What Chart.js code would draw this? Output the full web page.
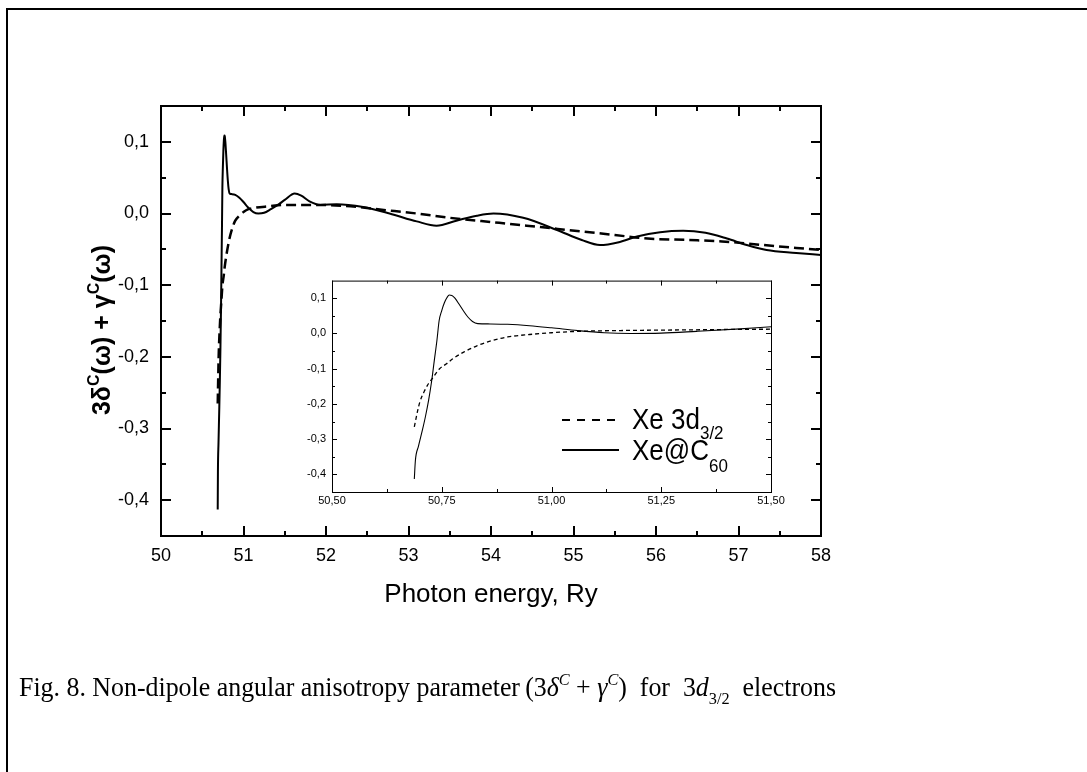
<!DOCTYPE html>
<html>
<head>
<meta charset="utf-8">
<script src="https://cdn.jsdelivr.net/npm/chart.js@4.4.0/dist/chart.umd.min.js"></script>
<style>
  html, body { margin: 0; padding: 0; background: #fff; }
  #page { position: relative; width: 1087px; height: 772px; overflow: hidden; }
  #mainChart { position: absolute; left: 0; top: 0; }
  #insetChart { position: absolute; left: 280px; top: 268px; }
</style>
</head>
<body>
<div id="page">
  <canvas id="mainChart" width="1087" height="772"></canvas>
  <canvas id="insetChart" width="510" height="252"></canvas>
</div>
<script>
// ========================
// DATA
// ========================
// Xe 3d3/2 (dashed)
const xeEnergy = [50.6875, 50.695, 50.70, 50.71, 50.72, 50.73, 50.745, 50.76, 50.775, 50.80,
  50.83, 50.86, 50.90, 50.95, 51.00, 51.06, 51.14, 51.30, 51.50, 51.90, 52.30, 52.70,
  53.10, 53.50, 54.10, 54.60, 55.10, 55.50, 55.90, 56.40, 56.80, 57.30, 57.70, 58.00];
const xeBeta = [-0.265, -0.22, -0.195, -0.165, -0.142, -0.125, -0.100, -0.087, -0.072, -0.053,
  -0.035, -0.022, -0.010, -0.003, 0.002, 0.006, 0.008, 0.010, 0.012, 0.012, 0.010, 0.005,
  0.000, -0.006, -0.013, -0.019, -0.025, -0.030, -0.035, -0.037, -0.039, -0.044, -0.048, -0.051];

// Xe@C60 (solid)
const xeC60Energy = [50.6875, 50.69, 50.697, 50.706, 50.713, 50.72, 50.727, 50.733, 50.739, 50.744,
  50.75, 50.756, 50.762, 50.767, 50.773, 50.78, 50.79, 50.80, 50.81, 50.82, 50.832, 50.86,
  50.90, 50.95, 51.00, 51.06, 51.12, 51.18, 51.25, 51.33, 51.43, 51.50, 51.62, 51.70,
  51.80, 51.93, 52.13, 52.45, 52.77, 53.10, 53.34, 53.58, 53.83, 54.03, 54.39, 54.80,
  55.10, 55.32, 55.55, 55.77, 56.05, 56.33, 56.60, 56.86, 57.10, 57.34, 57.70, 58.00];
const xeC60Beta = [-0.413, -0.36, -0.32, -0.274, -0.235, -0.19, -0.135, -0.077, -0.020, 0.036,
  0.065, 0.087, 0.102, 0.109, 0.108, 0.100, 0.082, 0.063, 0.046, 0.034, 0.028, 0.027,
  0.026, 0.022, 0.016, 0.008, 0.002, 0.000, 0.001, 0.006, 0.013, 0.019, 0.028, 0.025,
  0.017, 0.012, 0.013, 0.009, 0.000, -0.011, -0.017, -0.010, -0.003, 0.000, -0.006, -0.023,
  -0.037, -0.044, -0.040, -0.032, -0.026, -0.024, -0.027, -0.035, -0.044, -0.051, -0.055, -0.058];

const mainXTicks = [50, 51, 52, 53, 54, 55, 56, 57, 58];
const mainYTicks = [-0.4, -0.3, -0.2, -0.1, 0.0, 0.1];
const insetXTicks = [50.5, 50.75, 51.0, 51.25, 51.5];
const insetYTicks = [-0.4, -0.3, -0.2, -0.1, 0.0, 0.1];

const toPoints = (xs, ys) => xs.map((x, i) => ({ x: x, y: ys[i] }));
const comma = d => v => Number(v).toFixed(d).replace('.', ',');

// ========================
// HELPERS
// ========================
// parts: [text, font, dy]; draws a run of text pieces on one baseline
function drawRich(ctx, parts, x, y, align, fitWidth, sy) {
  ctx.save();
  let total = 0;
  const widths = parts.map(p => {
    ctx.font = p[1];
    const w = ctx.measureText(p[0]).width;
    total += w;
    return w;
  });
  const sx = fitWidth ? fitWidth / total : 1;
  ctx.translate(x, y);
  ctx.scale(sx, sy || 1);
  let cx = align === 'center' ? -total / 2 : 0;
  ctx.fillStyle = '#000';
  ctx.textAlign = 'left';
  ctx.textBaseline = 'alphabetic';
  parts.forEach((p, i) => {
    ctx.font = p[1];
    ctx.fillText(p[0], cx, p[2] || 0);
    cx += widths[i];
  });
  ctx.restore();
}

// frame round the plot area with inward major and minor ticks on all four sides
const frameTicks = {
  id: 'frameTicks',
  afterDatasetsDraw(chart, args, opts) {
    const { ctx, chartArea: a, scales: { x, y } } = chart;
    const off = opts.width % 2 ? 0.5 : 0;
    const mid = vals => vals.slice(1).map((v, i) => (v + vals[i]) / 2);
    ctx.save();
    ctx.strokeStyle = '#000';
    ctx.lineWidth = opts.width;
    ctx.beginPath();
    const xt = x.ticks.map(t => t.value);
    [[xt, opts.major], [mid(xt), opts.minor]].forEach(([vals, len]) => vals.forEach(v => {
      const px = Math.round(x.getPixelForValue(v)) + off;
      ctx.moveTo(px, a.bottom); ctx.lineTo(px, a.bottom - len);
      ctx.moveTo(px, a.top); ctx.lineTo(px, a.top + len);
    }));
    const yt = y.ticks.map(t => t.value);
    [[yt, opts.major], [mid(yt), opts.minor]].forEach(([vals, len]) => vals.forEach(v => {
      const py = Math.round(y.getPixelForValue(v)) + off;
      ctx.moveTo(a.left, py); ctx.lineTo(a.left + len, py);
      ctx.moveTo(a.right, py); ctx.lineTo(a.right - len, py);
    }));
    ctx.stroke();
    ctx.strokeRect(a.left + off, a.top + off, a.right - a.left, a.bottom - a.top);
    ctx.restore();
  }
};

// ========================
// MAIN CHART
// ========================
const mainText = {
  id: 'mainText',
  afterDraw(chart) {
    const ctx = chart.ctx;
    const a = chart.chartArea;
    // page frame
    ctx.save();
    ctx.strokeStyle = '#000';
    ctx.lineWidth = 2;
    ctx.beginPath();
    ctx.moveTo(7, 772); ctx.lineTo(7, 9); ctx.lineTo(1087, 9);
    ctx.stroke();
    ctx.restore();

    // x title
    drawRich(ctx, [['Photon energy, Ry', '26px Arial, "Liberation Sans", sans-serif']],
      (a.left + a.right) / 2, 602, 'center');

    // y title
    ctx.save();
    ctx.translate(110, 330);
    ctx.rotate(-Math.PI / 2);
    const b = 'bold 25px Arial, "Liberation Sans", sans-serif';
    const s = 'bold 16px Arial, "Liberation Sans", sans-serif';
    drawRich(ctx, [['3\u03B4', b], ['C', s, -11], ['(\u03C9) + \u03B3', b], ['C', s, -11], ['(\u03C9)', b]],
      0, 0, 'center');
    ctx.restore();

    // caption
    const n = '27px "Liberation Serif", "Times New Roman", serif';
    const it = 'italic 27px "Liberation Serif", "Times New Roman", serif';
    const sm = 'italic 17px "Liberation Serif", "Times New Roman", serif';
    const smn = '17px "Liberation Serif", "Times New Roman", serif';
    drawRich(ctx, [
      ['Fig. 8. Non-dipole angular anisotropy parameter\u2009(3', n],
      ['\u03B4', it], ['C', sm, -11], [' + ', n], ['\u03B3', it], ['C', sm, -11],
      [')\u2002for\u20023', n], ['d', it], ['3/2', smn, 8], ['\u2002electrons', n]
    ], 19, 696, 'left', 817);
  }
};

new Chart(document.getElementById('mainChart'), {
  type: 'line',
  data: {
    datasets: [{
      label: 'Xe 3d3/2',
      data: toPoints(xeEnergy, xeBeta),
      borderColor: '#000',
      borderWidth: 2.5,
      borderDash: [10, 5],
      pointRadius: 0,
      fill: false,
      cubicInterpolationMode: 'monotone'
    }, {
      label: 'Xe@C60',
      data: toPoints(xeC60Energy, xeC60Beta),
      borderColor: '#000',
      borderWidth: 2,
      pointRadius: 0,
      fill: false,
      cubicInterpolationMode: 'monotone'
    }]
  },
  options: {
    responsive: false,
    animation: false,
    events: [],
    layout: { padding: { left: 101, top: 106, right: 266, bottom: 186 } },
    plugins: {
      legend: { display: false },
      tooltip: { enabled: false },
      frameTicks: { width: 2, major: 10, minor: 5 }
    },
    scales: {
      x: {
        type: 'linear',
        min: 50,
        max: 58,
        afterBuildTicks: s => { s.ticks = mainXTicks.map(v => ({ value: v })); },
        afterFit: s => { s.height = 50; },
        grid: { display: false, drawTicks: false },
        border: { display: false },
        ticks: {
          autoSkip: false,
          maxRotation: 0,
          padding: 9,
          color: '#000',
          font: { family: 'Arial, "Liberation Sans", sans-serif', size: 18 },
          callback: comma(0)
        }
      },
      y: {
        type: 'linear',
        min: -0.45,
        max: 0.15,
        afterBuildTicks: s => { s.ticks = mainYTicks.map(v => ({ value: v })); },
        afterFit: s => { s.width = 60; },
        grid: { display: false, drawTicks: false },
        border: { display: false },
        ticks: {
          padding: 12,
          color: '#000',
          font: { family: 'Arial, "Liberation Sans", sans-serif', size: 18 },
          callback: comma(1)
        }
      }
    }
  },
  plugins: [frameTicks, mainText]
});

// ========================
// INSET CHART
// ========================
const insetLegend = {
  id: 'insetLegend',
  afterDraw(chart) {
    const ctx = chart.ctx;
    ctx.save();
    ctx.strokeStyle = '#000';
    ctx.lineWidth = 2;
    ctx.setLineDash([8, 7]);
    ctx.beginPath();
    ctx.moveTo(282, 152); ctx.lineTo(339, 152);
    ctx.stroke();
    ctx.setLineDash([]);
    ctx.beginPath();
    ctx.moveTo(282, 182); ctx.lineTo(339, 182);
    ctx.stroke();
    ctx.restore();
    const big = '26px Arial, "Liberation Sans", sans-serif';
    const sub = '17px Arial, "Liberation Sans", sans-serif';
    drawRich(ctx, [['Xe 3d', big], ['3/2', sub, 9]], 352, 161, 'left', null, 1.12);
    drawRich(ctx, [['Xe@C', big], ['60', sub, 11]], 352, 192, 'left', null, 1.12);
  }
};

new Chart(document.getElementById('insetChart'), {
  type: 'line',
  data: {
    datasets: [{
      label: 'Xe 3d3/2',
      data: toPoints(xeEnergy, xeBeta),
      borderColor: '#000',
      borderWidth: 1.3,
      borderDash: [4, 3],
      pointRadius: 0,
      fill: false,
      cubicInterpolationMode: 'monotone'
    }, {
      label: 'Xe@C60',
      data: toPoints(xeC60Energy, xeC60Beta),
      borderColor: '#000',
      borderWidth: 1.1,
      pointRadius: 0,
      fill: false,
      cubicInterpolationMode: 'monotone'
    }]
  },
  options: {
    responsive: false,
    animation: false,
    events: [],
    layout: { padding: { left: 12, top: 11, right: 19, bottom: 8 } },
    plugins: {
      legend: { display: false },
      tooltip: { enabled: false },
      frameTicks: { width: 1, major: 5, minor: 3 }
    },
    scales: {
      x: {
        type: 'linear',
        min: 50.5,
        max: 51.5,
        afterBuildTicks: s => { s.ticks = insetXTicks.map(v => ({ value: v })); },
        afterFit: s => { s.height = 20; },
        grid: { display: false, drawTicks: false },
        border: { display: false },
        ticks: {
          autoSkip: false,
          maxRotation: 0,
          padding: 2,
          color: '#000',
          font: { family: 'Arial, "Liberation Sans", sans-serif', size: 11 },
          callback: comma(2)
        }
      },
      y: {
        type: 'linear',
        min: -0.45,
        max: 0.15,
        afterBuildTicks: s => { s.ticks = insetYTicks.map(v => ({ value: v })); },
        afterFit: s => { s.width = 40; },
        grid: { display: false, drawTicks: false },
        border: { display: false },
        ticks: {
          padding: 6,
          color: '#000',
          font: { family: 'Arial, "Liberation Sans", sans-serif', size: 11 },
          callback: comma(1)
        }
      }
    }
  },
  plugins: [frameTicks, insetLegend]
});
</script>
</body>
</html>
